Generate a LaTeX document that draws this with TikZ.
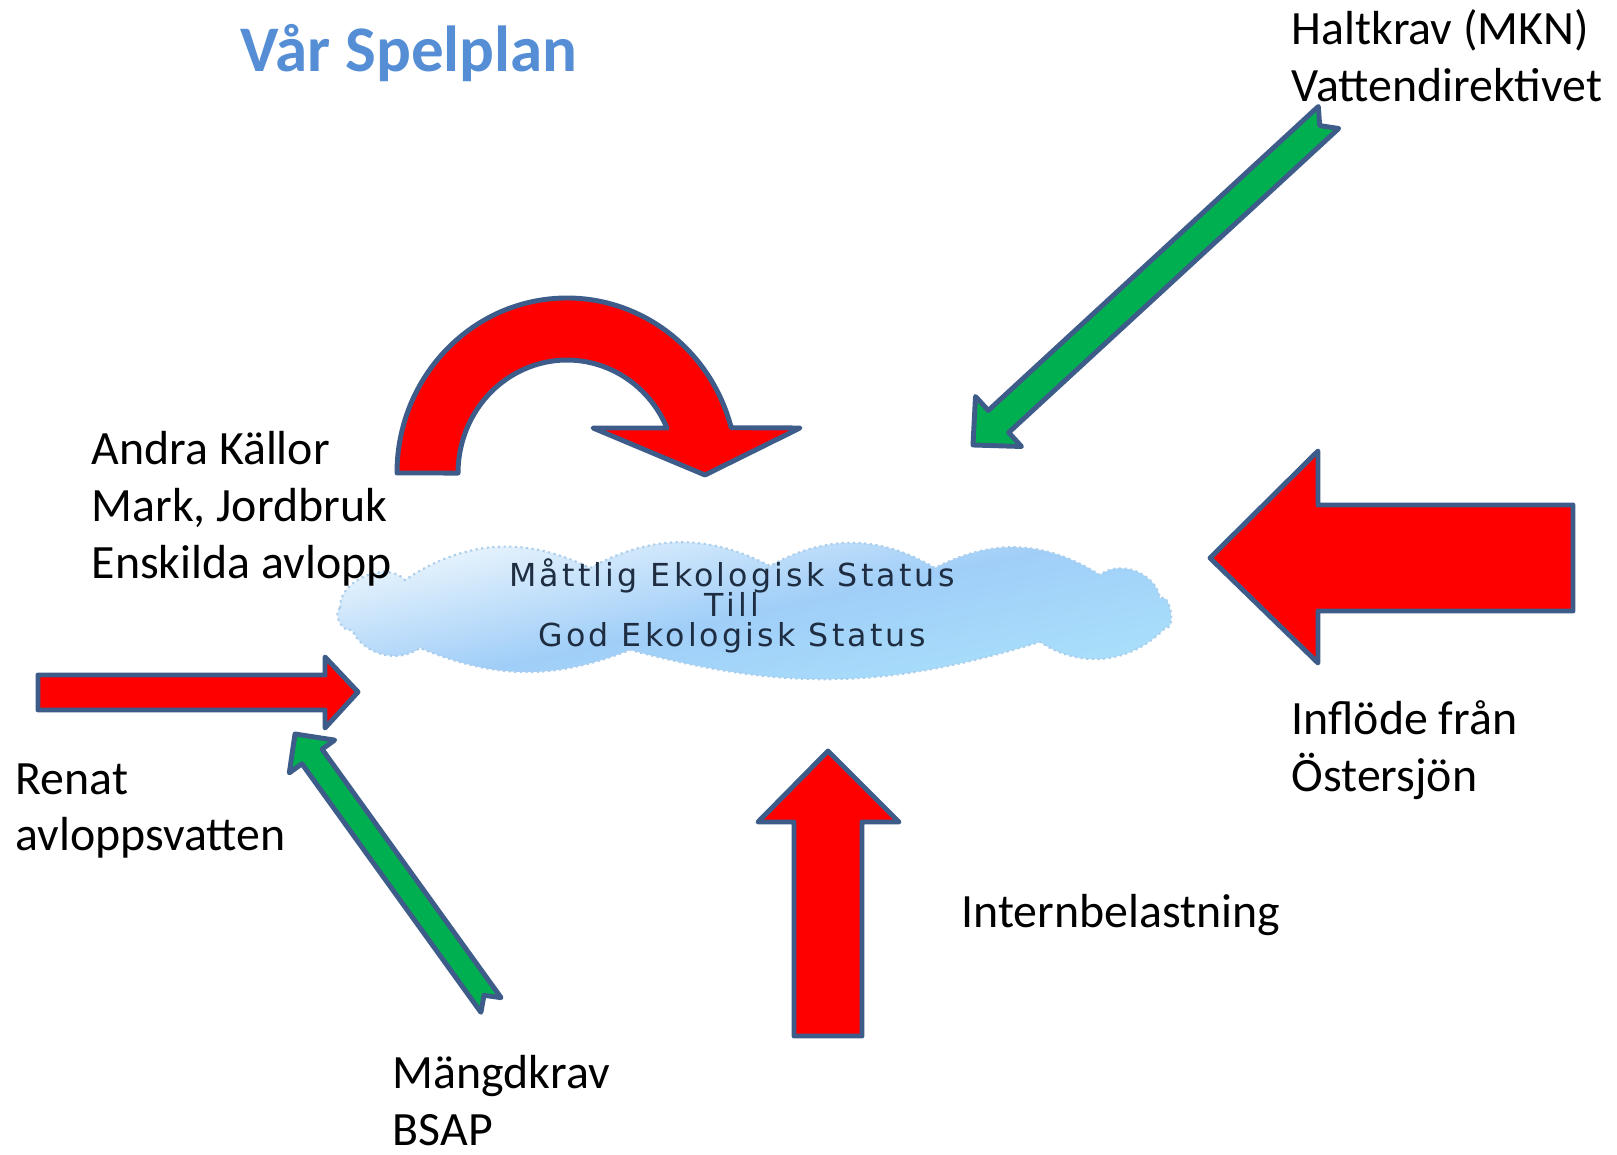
\documentclass[tikz,border=0pt]{standalone}
\usepackage{fontspec}
\setmainfont{Carlito}
\newfontfamily\molnfont[LetterSpace=10]{DejaVu Sans}
\newcommand\molnstil{\molnfont\fontsize{9}{8.6}\selectfont\lineskiplimit=-20pt\relax}

\definecolor{kant}{RGB}{62,92,138}
\definecolor{gron}{RGB}{0,176,80}
\definecolor{rubrik}{RGB}{85,142,213}
\definecolor{moln1}{RGB}{238,247,253}
\definecolor{moln2}{RGB}{160,206,248}
\definecolor{moln3}{RGB}{170,226,251}
\definecolor{molnkant}{RGB}{170,205,235}
\definecolor{molntext}{RGB}{30,45,65}

\begin{document}
\begin{tikzpicture}[
    x=0.01cm, y=-0.01cm,
    txt/.style={anchor=west, align=left, inner sep=0pt, font=\fontsize{13.6}{16.2}\selectfont},
    rodpil/.style={draw=kant, fill=red, line width=1.4pt, line join=round},
    gronpil/.style={draw=kant, fill=gron, line width=1.4pt, line join=round},
    moln/.style={draw=molnkant, densely dotted, line width=0.6pt,
        top color=moln1, bottom color=moln3, middle color=moln2, shading angle=12}
]
    \useasboundingbox (0,0) rectangle (1617,1155);

    \node [anchor=base west, inner sep=0pt, text=rubrik, font=\fontsize{18.5}{22}\selectfont\bfseries] (rubrik) at (240,72) {Vår Spelplan};

    % cloud
    \path [moln] (340,608) to[bend left=70] (405,580) to[bend left=30] (590,568) to[bend left=28] (770,566)
        to[bend left=30] (935,568) to[bend left=30] (1100,575) to[bend left=60] (1160,598)
        to[bend left=110] (1165,628) to[bend left=40] (1040,642) to[bend left=16] (630,650)
        to[bend left=22] (420,648) to[bend left=50] (352,630) to[bend left=80] cycle;
    \node [inner sep=0pt, align=center, text=molntext, font=\molnstil] (status) at (732,606)
        {Måttlig Ekologisk Status\\Till\\God Ekologisk Status};

    % red arrows
    \draw [rodpil] (397,473) arc[start angle=180, end angle=345, x radius=170, y radius=175]
        -- (800,428) -- (705,475) -- (593,428) -- (667,428)
        arc[start angle=336.5, end angle=180, x radius=109, y radius=113] -- cycle;
    \draw [rodpil] (1573,505) -- (1318,505) -- (1318,451) -- (1210,558) -- (1318,663) -- (1318,611) -- (1573,611) -- cycle;
    \draw [rodpil] (794,1036) -- (794,822) -- (758,822) -- (828,751) -- (899,822) -- (862,822) -- (862,1036) -- cycle;
    \draw [rodpil] (38,675) -- (325,675) -- (325,657) -- (358,692) -- (325,728) -- (325,710) -- (38,710) -- cycle;

    % green arrows
    \draw [gronpil] (973,445) -- (975.5,396.5) -- (988.3,410.5) -- (1318.3,106.5) -- (1319.7,125.6)
        -- (1338.7,128.5) -- (1008.7,432.5) -- (1021.5,446.5) -- cycle;
    \draw [gronpil] (295,734) -- (334.7,740.1) -- (322.1,749.2) -- (501.1,997.7) -- (484,995.3)
        -- (480.9,1012.3) -- (301.9,763.8) -- (289.3,772.9) -- cycle;

    \node [txt] (halt) at (1291,56) {Haltkrav (MKN)\\Vattendirektivet};
    \node [txt] (andra) at (91,509) {Andra Källor\\Mark, Jordbruk\\Enskilda avlopp};
    \node [txt] (renat) at (15,811) {Renat\\avloppsvatten};
    \node [txt] (mangd) at (392,1101) {Mängdkrav\\BSAP};
    \node [txt] (intern) at (961,915) {Internbelastning};
    \node [txt] (inflode) at (1291,750) {Inflöde från\\Östersjön};
\end{tikzpicture}
\end{document}
